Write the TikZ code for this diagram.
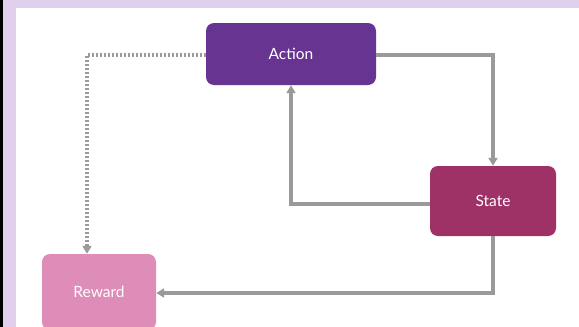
\documentclass[tikz,border=0pt]{standalone}
\usepackage{fontspec}
\setmainfont{Lato}
\usetikzlibrary{arrows.meta}
\definecolor{lav}{HTML}{E0D0EE}
\definecolor{actc}{HTML}{673591}
\definecolor{statec}{HTML}{9E3166}
\definecolor{rewc}{HTML}{DE8CB8}
\definecolor{linec}{HTML}{9A9A9A}
\tikzset{
  box/.style={draw=none, rounded corners=8pt, text=white, font=\fontsize{15.5}{18}\selectfont, inner sep=0pt},
  conn/.style={draw=linec, line width=3.2pt, -{Triangle[length=8pt,width=9pt]}},
  dotconn/.style={draw=linec, line width=3.2pt, dash pattern=on 2pt off 2pt, -{Triangle[length=8pt,width=9pt]}}
}
\begin{document}
\begin{tikzpicture}[x=1pt,y=-1pt]
\useasboundingbox (0,0) rectangle (579,327);
\fill[white] (0,0) rectangle (579,327);
\fill[lav] (3,0) rectangle (579,8);
\fill[lav] (3,0) rectangle (16,327);
\fill[black] (0,0) rectangle (3,327);
\begin{scope}
\clip (0,0) rectangle (579,327);
\node[box, fill=actc, minimum width=170pt, minimum height=62pt] (action) at (291,54) {Action};
\node[box, fill=statec, minimum width=126pt, minimum height=70pt] (state) at (493,201) {State};
\node[box, fill=rewc, minimum width=114pt, minimum height=76pt] (reward) at (99,292) {Reward};
\coordinate (c1) at (493,55);
\coordinate (c2) at (291,204);
\coordinate (c3) at (493,293);
\coordinate (c4) at (87,55);
\draw[conn] (action.east |- c1) -- (c1) -- (state.north);
\draw[conn] (state.west |- c2) -- (c2) -- (action.south -| c2);
\draw[conn] (state.south) -- (c3) -- (reward.east |- c3);
\draw[dotconn] (action.west |- c4) -- (c4) -- (reward.north -| c4);
\end{scope}
\end{tikzpicture}
\end{document}
